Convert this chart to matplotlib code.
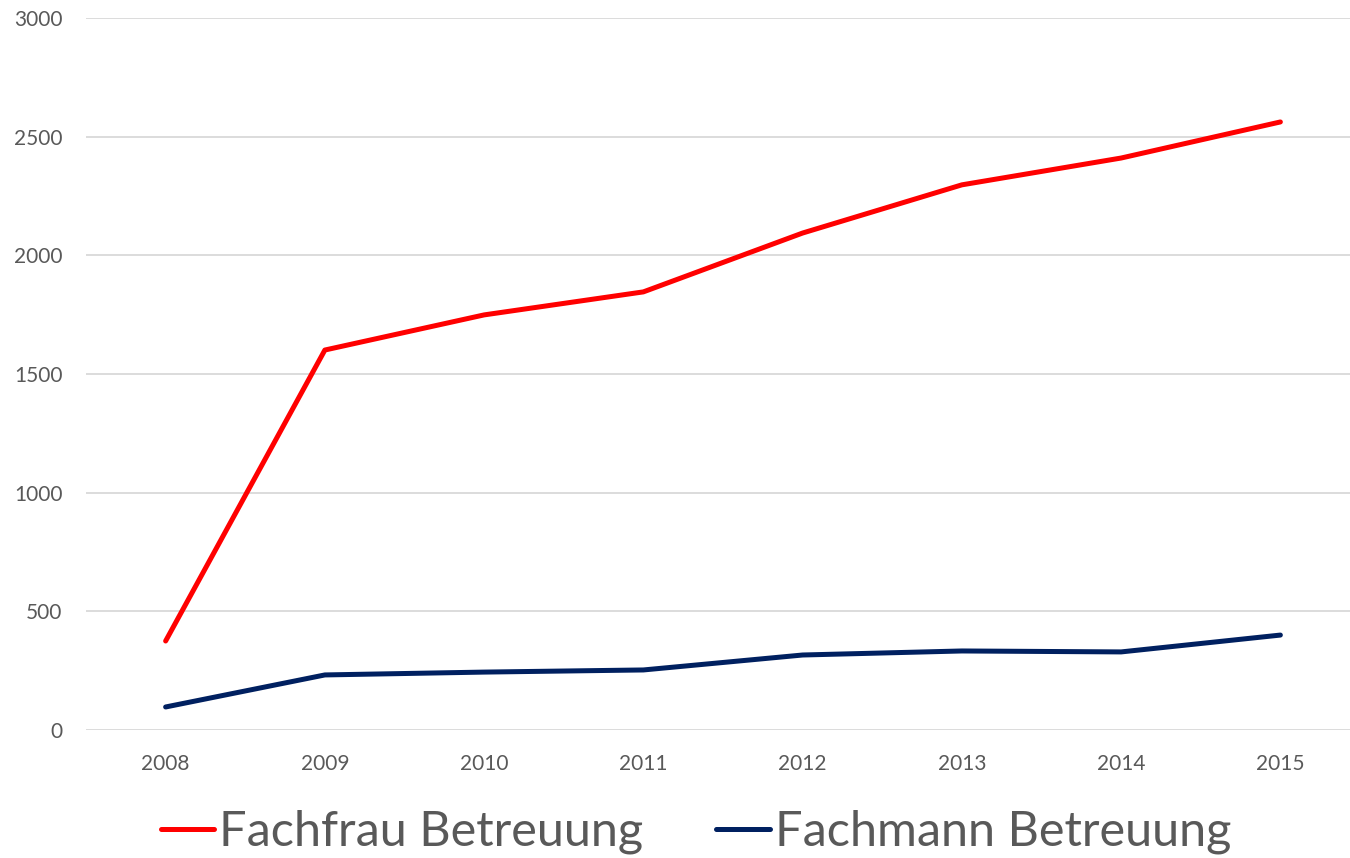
import matplotlib.pyplot as plt

# Daten
jahre = ['2008', '2009', '2010', '2011', '2012', '2013', '2014', '2015']
fachfrau = [375, 1601, 1749, 1846, 2094, 2297, 2410, 2562]
fachmann = [97, 232, 244, 253, 316, 333, 329, 400]

plt.rcParams['font.family'] = ['Lato', 'DejaVu Sans']
grau = '#595959'

fig = plt.figure(figsize=(13.5, 8.58), dpi=100)
ax = fig.add_axes([86 / 1350, 128 / 858, 1274 / 1350, 712 / 858])

x = range(len(jahre))
ax.plot(x, fachfrau, color='#FF0000', lw=3.6, solid_capstyle='round',
        solid_joinstyle='round', label='Fachfrau Betreuung')
ax.plot(x, fachmann, color='#002060', lw=3.6, solid_capstyle='round',
        solid_joinstyle='round', label='Fachmann Betreuung')

ax.set_xlim(-0.5, len(jahre) - 0.5)
ax.set_ylim(0, 3000)
ax.set_yticks(range(0, 3001, 500))
ax.set_xticks(list(x))
ax.set_xticklabels(jahre)

ax.grid(axis='y', color='#D9D9D9', lw=1.3)
ax.set_axisbelow(True)
for s in ax.spines.values():
    s.set_visible(False)
ax.tick_params(axis='both', length=0, labelsize=15, labelcolor=grau)
ax.tick_params(axis='y', pad=17)
ax.tick_params(axis='x', pad=17)

leg = fig.legend(loc='center', bbox_to_anchor=(696 / 1350, 26 / 858), ncol=2,
                 frameon=False, fontsize=35, handlelength=1.1,
                 handletextpad=0.1, columnspacing=1.5)
for t in leg.get_texts():
    t.set_color(grau)

fig.savefig('out.png', dpi=100)
